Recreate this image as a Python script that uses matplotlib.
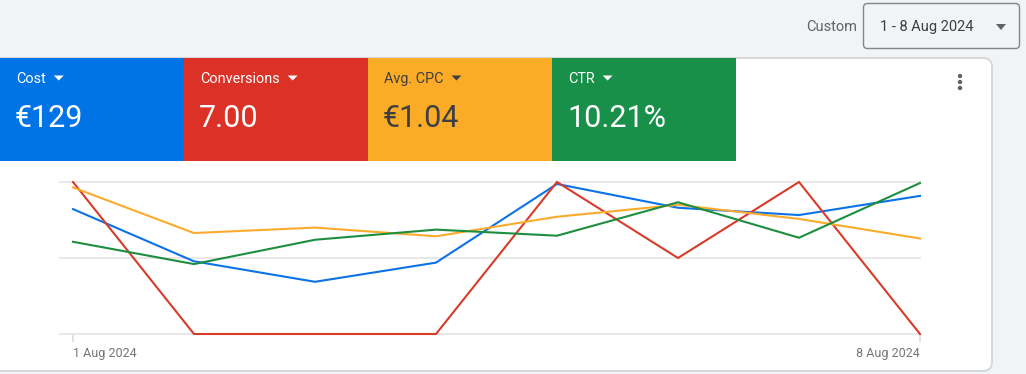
import matplotlib
matplotlib.use("Agg")
import matplotlib.pyplot as plt
from matplotlib.patches import FancyBboxPatch, Rectangle, Polygon, Circle

# ---------------- data ----------------
days = ["1 Aug 2024", "2 Aug 2024", "3 Aug 2024", "4 Aug 2024",
        "5 Aug 2024", "6 Aug 2024", "7 Aug 2024", "8 Aug 2024"]
cost = [18.9, 11.0, 7.9, 10.8, 22.7, 19.1, 18.0, 20.9]          # €
conversions = [2, 0, 0, 0, 2, 1, 2, 0]
avg_cpc = [1.35, 0.93, 0.98, 0.90, 1.08, 1.19, 1.06, 0.88]       # €
ctr = [9.1, 6.9, 9.3, 10.3, 9.7, 13.0, 9.5, 14.9]               # %

metric_names = ["Cost", "Conversions", "Avg. CPC", "CTR"]
metric_totals = ["€129", "7.00", "€1.04", "10.21%"]
series = [cost, conversions, avg_cpc, ctr]
scale_max = [23, 2, 1.4, 15]     # each series has its own scale

date_range_label = "1 - 8 Aug 2024"
range_type = "Custom"

# ---------------- styles ----------------
tile_colors = ["#0073e6", "#dc3126", "#fcab26", "#18904a"]
text_colors = ["white", "white", "#3c4043", "white"]
line_colors = ["#0b72e7", "#d83b2a", "#fbab2c", "#1e8e3e"]
line_order = [2, 3, 1, 0]

W, H = 1026, 374
plt.rcParams["font.family"] = ["Roboto", "DejaVu Sans"]
fig = plt.figure(figsize=(W / 100, H / 100), dpi=100)
fig.patch.set_facecolor("#f1f3f4")

bg = fig.add_axes([0, 0, 1, 1])
bg.set_xlim(0, W)
bg.set_ylim(H, 0)
bg.axis("off")

# card
bg.add_patch(FancyBboxPatch((-10, 58), 1002, 313,
                            boxstyle="round,pad=0,rounding_size=9",
                            facecolor="white", edgecolor="#d3d5d8", lw=1.3))

# header
bg.text(806, 27, range_type, fontsize=10.5, color="#5f6368", va="center", ha="left")
bg.add_patch(FancyBboxPatch((863.5, 3.5), 156, 45,
                            boxstyle="round,pad=0,rounding_size=4",
                            facecolor="none", edgecolor="#80868b", lw=1))
bg.text(880, 27, date_range_label, fontsize=10.5, color="#3c4043", va="center", ha="left")
bg.add_patch(Polygon([(996, 24), (1006, 24), (1001, 30)], closed=True,
                     facecolor="#5f6368", edgecolor="none"))

# three dots menu
for yy in (76, 82, 88):
    bg.add_patch(Circle((960, yy), 2.2, facecolor="#5f6368", edgecolor="none"))

# metric tiles
tile_w = 184
label_texts = []
for i, (name, total) in enumerate(zip(metric_names, metric_totals)):
    x0 = i * tile_w
    bg.add_patch(Rectangle((x0, 58), tile_w, 103, facecolor=tile_colors[i],
                           edgecolor="none"))
    t = bg.text(x0 + 16, 78.5, name, fontsize=10.4, color=text_colors[i],
                va="center", ha="left")
    label_texts.append((t, i))
    bg.text(x0 + 15, 118.5, total, fontsize=22, color=text_colors[i],
            va="center", ha="left")

fig.canvas.draw()
renderer = fig.canvas.get_renderer()
inv = bg.transData.inverted()
for t, i in label_texts:
    bb = t.get_window_extent(renderer)
    xr = inv.transform((bb.x1, 0))[0]
    xa = xr + 8
    bg.add_patch(Polygon([(xa, 75.5), (xa + 10, 75.5), (xa + 5, 80.5)], closed=True,
                         facecolor=text_colors[i], edgecolor="none"))

# ---------------- chart ----------------
x_first, x_last, y_top, y_bot, x_grid = 73, 920, 182, 334, 60
step = (x_last - x_first) / (len(days) - 1)
ax = fig.add_axes([x_grid / W, (H - y_bot) / H, (x_last - x_grid) / W,
                   (y_bot - y_top) / H])
ax.patch.set_alpha(0)
ax.set_xlim(-(x_first - x_grid) / step, len(days) - 1)
ax.set_ylim(0, 1)
for gy in (0, 0.5, 1):
    ax.axhline(gy, color="#e6e6e6", lw=1.3, zorder=1, clip_on=False)
for s in ax.spines.values():
    s.set_visible(False)
ax.set_yticks([])

xs = list(range(len(days)))
for k in line_order:
    vals = [v / scale_max[k] for v in series[k]]
    ax.plot(xs, vals, color=line_colors[k], lw=1.5, clip_on=False, zorder=3 + k,
            solid_joinstyle="miter")

ax.set_xticks([0, len(days) - 1])
ax.set_xticklabels([days[0], days[-1]])
ax.tick_params(axis="x", length=6, width=1.3, color="#e0e0e0", pad=3,
               labelsize=9, labelcolor="#757575")
labs = ax.get_xticklabels()
labs[0].set_ha("left")
labs[-1].set_ha("right")

fig.savefig("out.png", dpi=100, facecolor=fig.get_facecolor())
